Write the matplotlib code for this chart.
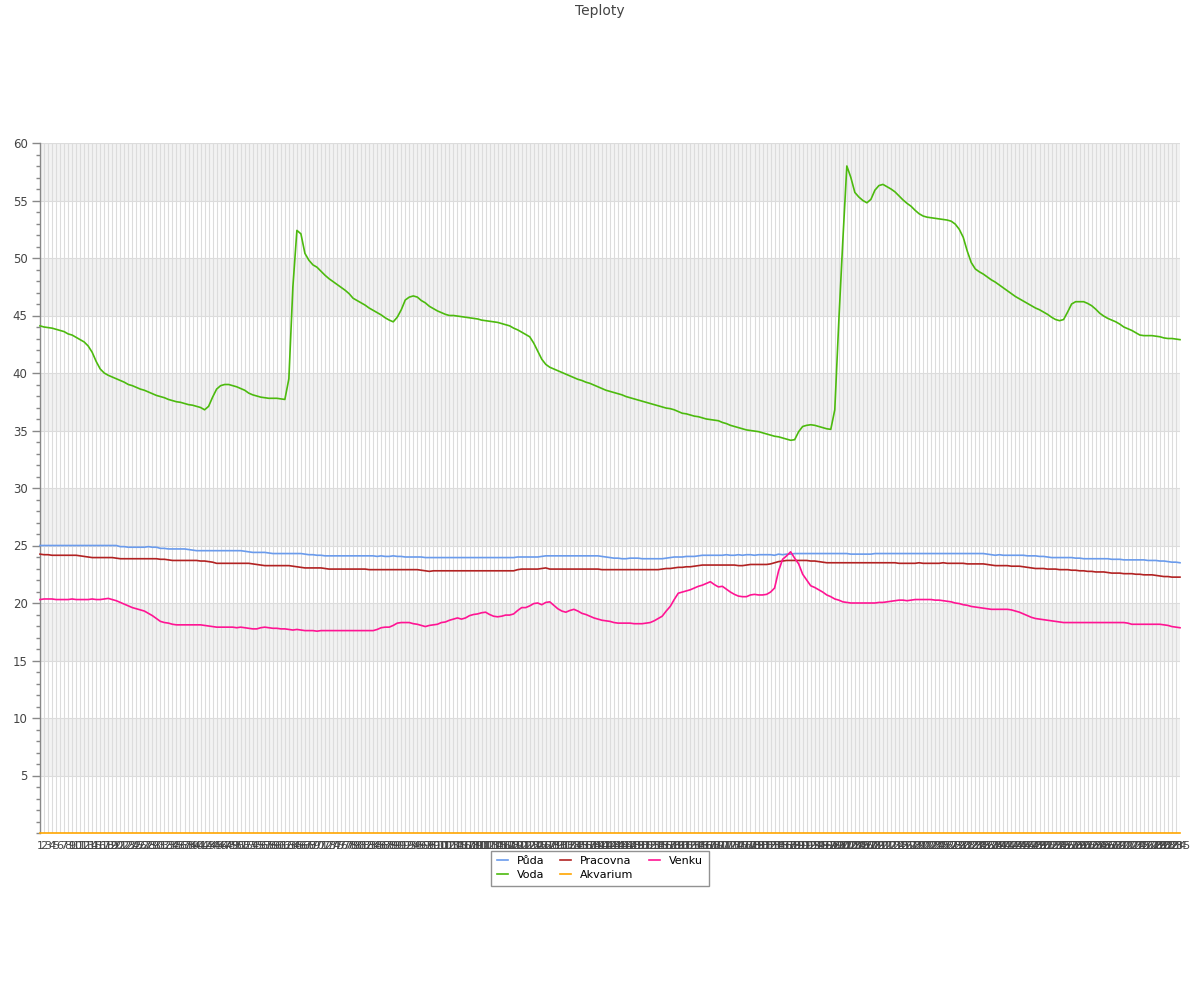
import matplotlib
matplotlib.use("Agg")
import matplotlib.pyplot as plt
from matplotlib.ticker import MultipleLocator

plt.rcParams['font.family'] = ['DejaVu Sans']

title = "Teploty"
series_names = ["Půda", "Voda", "Pracovna", "Akvarium", "Venku"]
series_colors = ["#6a9bec", "#4cba0e", "#b22222", "#ffa500", "#ff1493"]

puda = [
    25.0, 25.0, 25.0, 25.0, 25.0, 25.0, 25.0, 25.0, 25.0, 25.0, 25.0, 25.0, 25.0, 25.0, 25.0,
    25.0, 25.0, 25.0, 25.0, 25.0, 24.9, 24.9, 24.85, 24.85, 24.85, 24.85, 24.85, 24.9, 24.85, 24.85,
    24.75, 24.75, 24.7, 24.7, 24.7, 24.7, 24.7, 24.65, 24.6, 24.55, 24.55, 24.55, 24.55, 24.55, 24.55,
    24.55, 24.55, 24.55, 24.55, 24.55, 24.55, 24.5, 24.45, 24.4, 24.4, 24.4, 24.4, 24.35, 24.3, 24.3,
    24.3, 24.3, 24.3, 24.3, 24.3, 24.3, 24.25, 24.2, 24.2, 24.15, 24.15, 24.1, 24.1, 24.1, 24.1,
    24.1, 24.1, 24.1, 24.1, 24.1, 24.1, 24.1, 24.1, 24.1, 24.05, 24.1, 24.05, 24.05, 24.1, 24.05,
    24.05, 24.0, 24.0, 24.0, 24.0, 24.0, 23.95, 23.95, 23.95, 23.95, 23.95, 23.95, 23.95, 23.95, 23.95,
    23.95, 23.95, 23.95, 23.95, 23.95, 23.95, 23.95, 23.95, 23.95, 23.95, 23.95, 23.95, 23.95, 23.95, 24.0,
    24.0, 24.0, 24.0, 24.0, 24.0, 24.05, 24.1, 24.1, 24.1, 24.1, 24.1, 24.1, 24.1, 24.1, 24.1,
    24.1, 24.1, 24.1, 24.1, 24.1, 24.05, 24.0, 23.95, 23.9, 23.9, 23.85, 23.85, 23.9, 23.9, 23.9,
    23.85, 23.85, 23.85, 23.85, 23.85, 23.85, 23.9, 23.95, 24.0, 24.0, 24.0, 24.05, 24.05, 24.05, 24.1,
    24.15, 24.15, 24.15, 24.15, 24.15, 24.15, 24.2, 24.15, 24.15, 24.2, 24.15, 24.2, 24.2, 24.15, 24.2,
    24.2, 24.2, 24.2, 24.15, 24.25, 24.2, 24.25, 24.25, 24.3, 24.3, 24.3, 24.3, 24.3, 24.3, 24.3,
    24.3, 24.3, 24.3, 24.3, 24.3, 24.3, 24.3, 24.25, 24.25, 24.25, 24.25, 24.25, 24.25, 24.3, 24.3,
    24.3, 24.3, 24.3, 24.3, 24.3, 24.3, 24.3, 24.3, 24.3, 24.3, 24.3, 24.3, 24.3, 24.3, 24.3,
    24.3, 24.3, 24.3, 24.3, 24.3, 24.3, 24.3, 24.3, 24.3, 24.3, 24.3, 24.25, 24.2, 24.15, 24.2,
    24.15, 24.15, 24.15, 24.15, 24.15, 24.15, 24.1, 24.1, 24.1, 24.05, 24.05, 24.0, 23.95, 23.95, 23.95,
    23.95, 23.95, 23.95, 23.9, 23.9, 23.85, 23.85, 23.85, 23.85, 23.85, 23.85, 23.85, 23.8, 23.8, 23.8,
    23.75, 23.75, 23.75, 23.75, 23.75, 23.75, 23.7, 23.7, 23.7, 23.65, 23.65, 23.6, 23.55, 23.55, 23.5,
]

voda = [
    44.1, 44.0, 43.95, 43.9, 43.8, 43.7, 43.6, 43.4, 43.3, 43.1, 42.9, 42.7, 42.35, 41.8, 41.0,
    40.35, 40.0, 39.8, 39.65, 39.5, 39.35, 39.2, 39.0, 38.9, 38.75, 38.6, 38.5, 38.35, 38.2, 38.05,
    37.95, 37.85, 37.7, 37.6, 37.5, 37.45, 37.35, 37.25, 37.2, 37.1, 37.0, 36.8, 37.1, 37.9, 38.6,
    38.9, 39.0, 39.0, 38.9, 38.8, 38.65, 38.5, 38.25, 38.1, 38.0, 37.9, 37.85, 37.8, 37.8, 37.8,
    37.75, 37.7, 39.5, 47.5, 52.4, 52.1, 50.4, 49.8, 49.4, 49.2, 48.85, 48.5, 48.2, 47.95, 47.7,
    47.45, 47.2, 46.9, 46.5, 46.3, 46.1, 45.9, 45.65, 45.45, 45.25, 45.05, 44.8, 44.6, 44.45, 44.85,
    45.5, 46.35, 46.6, 46.7, 46.6, 46.3, 46.1, 45.8, 45.6, 45.4, 45.25, 45.1, 45.0, 45.0, 44.95,
    44.9, 44.85, 44.8, 44.75, 44.7, 44.6, 44.55, 44.5, 44.45, 44.4, 44.3, 44.2, 44.1, 43.9, 43.75,
    43.55, 43.35, 43.15, 42.6, 41.9, 41.2, 40.75, 40.5, 40.35, 40.2, 40.05, 39.9, 39.75, 39.6, 39.45,
    39.35, 39.2, 39.1, 38.95, 38.8, 38.65, 38.5, 38.4, 38.3, 38.2, 38.1, 37.95, 37.85, 37.75, 37.65,
    37.55, 37.45, 37.35, 37.25, 37.15, 37.05, 36.95, 36.9, 36.8, 36.65, 36.5, 36.45, 36.35, 36.25, 36.2,
    36.1, 36.0, 35.95, 35.9, 35.85, 35.7, 35.6, 35.45, 35.35, 35.25, 35.15, 35.05, 35.0, 34.95, 34.9,
    34.8, 34.7, 34.6, 34.5, 34.45, 34.35, 34.25, 34.15, 34.2, 34.9, 35.35, 35.45, 35.5, 35.45, 35.35,
    35.25, 35.15, 35.1, 36.8, 44.5, 51.5, 58.0, 57.0, 55.7, 55.3, 55.0, 54.8, 55.1, 55.9, 56.3,
    56.4, 56.2, 56.0, 55.75, 55.4, 55.05, 54.75, 54.5, 54.15, 53.85, 53.65, 53.55, 53.5, 53.45, 53.4,
    53.35, 53.3, 53.2, 52.95, 52.5, 51.8, 50.6, 49.6, 49.05, 48.8, 48.6, 48.35, 48.1, 47.9, 47.65,
    47.4, 47.15, 46.9, 46.65, 46.45, 46.25, 46.05, 45.85, 45.65, 45.5, 45.3, 45.1, 44.85, 44.65, 44.55,
    44.65, 45.3, 46.0, 46.2, 46.2, 46.2, 46.05, 45.85, 45.55, 45.2, 44.95, 44.75, 44.6, 44.45, 44.25,
    44.0, 43.85, 43.7, 43.5, 43.3, 43.25, 43.25, 43.25, 43.2, 43.15, 43.05, 43.0, 43.0, 42.95, 42.9,
]

pracovna = [
    24.25, 24.2, 24.2, 24.15, 24.15, 24.15, 24.15, 24.15, 24.15, 24.15, 24.1, 24.05, 24.0, 23.95, 23.95,
    23.95, 23.95, 23.95, 23.95, 23.9, 23.85, 23.85, 23.85, 23.85, 23.85, 23.85, 23.85, 23.85, 23.85, 23.85,
    23.8, 23.8, 23.75, 23.7, 23.7, 23.7, 23.7, 23.7, 23.7, 23.7, 23.65, 23.65, 23.6, 23.55, 23.45,
    23.45, 23.45, 23.45, 23.45, 23.45, 23.45, 23.45, 23.45, 23.4, 23.35, 23.3, 23.25, 23.25, 23.25, 23.25,
    23.25, 23.25, 23.25, 23.2, 23.15, 23.1, 23.05, 23.05, 23.05, 23.05, 23.05, 23.0, 22.95, 22.95, 22.95,
    22.95, 22.95, 22.95, 22.95, 22.95, 22.95, 22.95, 22.9, 22.9, 22.9, 22.9, 22.9, 22.9, 22.9, 22.9,
    22.9, 22.9, 22.9, 22.9, 22.9, 22.85, 22.8, 22.75, 22.8, 22.8, 22.8, 22.8, 22.8, 22.8, 22.8,
    22.8, 22.8, 22.8, 22.8, 22.8, 22.8, 22.8, 22.8, 22.8, 22.8, 22.8, 22.8, 22.8, 22.8, 22.9,
    22.95, 22.95, 22.95, 22.95, 22.95, 23.0, 23.05, 22.95, 22.95, 22.95, 22.95, 22.95, 22.95, 22.95, 22.95,
    22.95, 22.95, 22.95, 22.95, 22.95, 22.9, 22.9, 22.9, 22.9, 22.9, 22.9, 22.9, 22.9, 22.9, 22.9,
    22.9, 22.9, 22.9, 22.9, 22.9, 22.95, 23.0, 23.0, 23.05, 23.1, 23.1, 23.15, 23.15, 23.2, 23.25,
    23.3, 23.3, 23.3, 23.3, 23.3, 23.3, 23.3, 23.3, 23.3, 23.25, 23.25, 23.3, 23.35, 23.35, 23.35,
    23.35, 23.35, 23.4, 23.5, 23.6, 23.65, 23.7, 23.7, 23.7, 23.7, 23.7, 23.7, 23.65, 23.65, 23.6,
    23.55, 23.5, 23.5, 23.5, 23.5, 23.5, 23.5, 23.5, 23.5, 23.5, 23.5, 23.5, 23.5, 23.5, 23.5,
    23.5, 23.5, 23.5, 23.5, 23.45, 23.45, 23.45, 23.45, 23.45, 23.5, 23.45, 23.45, 23.45, 23.45, 23.45,
    23.5, 23.45, 23.45, 23.45, 23.45, 23.45, 23.4, 23.4, 23.4, 23.4, 23.4, 23.35, 23.3, 23.25, 23.25,
    23.25, 23.25, 23.2, 23.2, 23.2, 23.15, 23.1, 23.05, 23.0, 23.0, 23.0, 22.95, 22.95, 22.95, 22.9,
    22.9, 22.9, 22.85, 22.85, 22.8, 22.8, 22.75, 22.75, 22.7, 22.7, 22.7, 22.65, 22.6, 22.6, 22.6,
    22.55, 22.55, 22.55, 22.5, 22.5, 22.45, 22.45, 22.45, 22.4, 22.35, 22.3, 22.3, 22.25, 22.25, 22.25,
]

akvarium = [
    0.0, 0.0, 0.0, 0.0, 0.0, 0.0, 0.0, 0.0, 0.0, 0.0, 0.0, 0.0, 0.0, 0.0, 0.0,
    0.0, 0.0, 0.0, 0.0, 0.0, 0.0, 0.0, 0.0, 0.0, 0.0, 0.0, 0.0, 0.0, 0.0, 0.0,
    0.0, 0.0, 0.0, 0.0, 0.0, 0.0, 0.0, 0.0, 0.0, 0.0, 0.0, 0.0, 0.0, 0.0, 0.0,
    0.0, 0.0, 0.0, 0.0, 0.0, 0.0, 0.0, 0.0, 0.0, 0.0, 0.0, 0.0, 0.0, 0.0, 0.0,
    0.0, 0.0, 0.0, 0.0, 0.0, 0.0, 0.0, 0.0, 0.0, 0.0, 0.0, 0.0, 0.0, 0.0, 0.0,
    0.0, 0.0, 0.0, 0.0, 0.0, 0.0, 0.0, 0.0, 0.0, 0.0, 0.0, 0.0, 0.0, 0.0, 0.0,
    0.0, 0.0, 0.0, 0.0, 0.0, 0.0, 0.0, 0.0, 0.0, 0.0, 0.0, 0.0, 0.0, 0.0, 0.0,
    0.0, 0.0, 0.0, 0.0, 0.0, 0.0, 0.0, 0.0, 0.0, 0.0, 0.0, 0.0, 0.0, 0.0, 0.0,
    0.0, 0.0, 0.0, 0.0, 0.0, 0.0, 0.0, 0.0, 0.0, 0.0, 0.0, 0.0, 0.0, 0.0, 0.0,
    0.0, 0.0, 0.0, 0.0, 0.0, 0.0, 0.0, 0.0, 0.0, 0.0, 0.0, 0.0, 0.0, 0.0, 0.0,
    0.0, 0.0, 0.0, 0.0, 0.0, 0.0, 0.0, 0.0, 0.0, 0.0, 0.0, 0.0, 0.0, 0.0, 0.0,
    0.0, 0.0, 0.0, 0.0, 0.0, 0.0, 0.0, 0.0, 0.0, 0.0, 0.0, 0.0, 0.0, 0.0, 0.0,
    0.0, 0.0, 0.0, 0.0, 0.0, 0.0, 0.0, 0.0, 0.0, 0.0, 0.0, 0.0, 0.0, 0.0, 0.0,
    0.0, 0.0, 0.0, 0.0, 0.0, 0.0, 0.0, 0.0, 0.0, 0.0, 0.0, 0.0, 0.0, 0.0, 0.0,
    0.0, 0.0, 0.0, 0.0, 0.0, 0.0, 0.0, 0.0, 0.0, 0.0, 0.0, 0.0, 0.0, 0.0, 0.0,
    0.0, 0.0, 0.0, 0.0, 0.0, 0.0, 0.0, 0.0, 0.0, 0.0, 0.0, 0.0, 0.0, 0.0, 0.0,
    0.0, 0.0, 0.0, 0.0, 0.0, 0.0, 0.0, 0.0, 0.0, 0.0, 0.0, 0.0, 0.0, 0.0, 0.0,
    0.0, 0.0, 0.0, 0.0, 0.0, 0.0, 0.0, 0.0, 0.0, 0.0, 0.0, 0.0, 0.0, 0.0, 0.0,
    0.0, 0.0, 0.0, 0.0, 0.0, 0.0, 0.0, 0.0, 0.0, 0.0, 0.0, 0.0, 0.0, 0.0, 0.0,
]

venku = [
    20.3, 20.35, 20.35, 20.35, 20.3, 20.3, 20.3, 20.3, 20.35, 20.3, 20.3, 20.3, 20.3, 20.35, 20.3,
    20.3, 20.35, 20.4, 20.3, 20.2, 20.05, 19.9, 19.75, 19.6, 19.5, 19.4, 19.3, 19.1, 18.9, 18.65,
    18.4, 18.3, 18.25, 18.15, 18.1, 18.1, 18.1, 18.1, 18.1, 18.1, 18.1, 18.05, 18.0, 17.95, 17.9,
    17.9, 17.9, 17.9, 17.9, 17.85, 17.9, 17.85, 17.8, 17.75, 17.75, 17.85, 17.9, 17.85, 17.8, 17.8,
    17.75, 17.75, 17.7, 17.65, 17.7, 17.65, 17.6, 17.6, 17.6, 17.55, 17.6, 17.6, 17.6, 17.6, 17.6,
    17.6, 17.6, 17.6, 17.6, 17.6, 17.6, 17.6, 17.6, 17.6, 17.7, 17.85, 17.9, 17.9, 18.05, 18.25,
    18.3, 18.3, 18.3, 18.2, 18.15, 18.05, 17.95, 18.05, 18.1, 18.15, 18.3, 18.35, 18.5, 18.6, 18.7,
    18.6, 18.7, 18.9, 19.0, 19.05, 19.15, 19.2, 19.0, 18.85, 18.8, 18.85, 18.95, 18.95, 19.05, 19.35,
    19.6, 19.6, 19.75, 19.95, 20.0, 19.85, 20.05, 20.1, 19.8, 19.5, 19.3, 19.2, 19.35, 19.45, 19.3,
    19.1, 19.0, 18.85, 18.7, 18.6, 18.5, 18.45, 18.4, 18.3, 18.25, 18.25, 18.25, 18.25, 18.2, 18.2,
    18.2, 18.25, 18.3, 18.45, 18.65, 18.85, 19.3, 19.7, 20.3, 20.85, 20.95, 21.05, 21.15, 21.3, 21.45,
    21.55, 21.7, 21.85, 21.6, 21.4, 21.45, 21.2, 20.95, 20.75, 20.6, 20.55, 20.55, 20.7, 20.75, 20.7,
    20.7, 20.75, 20.95, 21.3, 22.8, 23.8, 24.1, 24.45, 23.9, 23.4, 22.5, 22.0, 21.5, 21.35, 21.15,
    20.95, 20.7, 20.55, 20.35, 20.25, 20.1, 20.05, 20.0, 20.0, 20.0, 20.0, 20.0, 20.0, 20.0, 20.05,
    20.05, 20.1, 20.15, 20.2, 20.25, 20.25, 20.2, 20.25, 20.3, 20.3, 20.3, 20.3, 20.3, 20.25, 20.25,
    20.2, 20.15, 20.1, 20.0, 19.95, 19.85, 19.8, 19.7, 19.65, 19.6, 19.55, 19.5, 19.45, 19.45, 19.45,
    19.45, 19.45, 19.4, 19.3, 19.2, 19.05, 18.9, 18.75, 18.65, 18.6, 18.55, 18.5, 18.45, 18.4, 18.35,
    18.3, 18.3, 18.3, 18.3, 18.3, 18.3, 18.3, 18.3, 18.3, 18.3, 18.3, 18.3, 18.3, 18.3, 18.3,
    18.3, 18.25, 18.15, 18.15, 18.15, 18.15, 18.15, 18.15, 18.15, 18.15, 18.1, 18.05, 17.95, 17.9, 17.85,
]

n_points = len(voda)
categories = [str(i) for i in range(1, n_points + 1)]
series_values = [puda, voda, pracovna, akvarium, venku]

fig = plt.figure(figsize=(12, 10), dpi=100)
ax = fig.add_axes([40 / 1200, 167 / 1000, 1140 / 1200, 690 / 1000])

x = list(range(1, n_points + 1))

# alternating bands
for lo in [5, 15, 25, 35, 45, 55]:
    ax.axhspan(lo, lo + 5, color="#f2f2f2", zorder=0, lw=0)

lines = []
for name, vals, col in zip(series_names, series_values, series_colors):
    ln, = ax.plot(x, vals, color=col, lw=1.2, label=name, clip_on=False,
                  zorder=3 if name != "Akvarium" else 4, solid_joinstyle="round")
    lines.append(ln)

ax.set_xlim(1, n_points)
ax.set_ylim(0, 60)
ax.set_xticks(x)
ax.set_xticklabels(categories, fontsize=8, color="#444444")
ax.yaxis.set_major_locator(MultipleLocator(5))
ax.yaxis.set_minor_locator(MultipleLocator(1))
ax.set_yticks([5, 10, 15, 20, 25, 30, 35, 40, 45, 50, 55, 60])

ax.grid(True, which="major", axis="both", color="#dcdcdc", lw=0.8, zorder=1)
ax.set_axisbelow(True)

for s in ["top", "right", "bottom"]:
    ax.spines[s].set_visible(False)
ax.spines["left"].set_color("#888888")
ax.spines["left"].set_linewidth(1.0)

ax.tick_params(axis="x", length=0, pad=6)
ax.tick_params(axis="y", which="major", length=6, width=1, color="#888888",
               labelsize=8.5, labelcolor="#444444", pad=3)
ax.tick_params(axis="y", which="minor", length=3, width=1, color="#888888")

fig.text(0.5, 1 - 11 / 1000, title, ha="center", va="center", fontsize=10, color="#444444")

order = [0, 1, 2, 3, 4]
leg = fig.legend([lines[i] for i in order], [series_names[i] for i in order],
                 loc="center", bbox_to_anchor=(0.5, 1 - 868 / 1000), ncol=3,
                 fontsize=8, frameon=True, fancybox=False, edgecolor="#777777",
                 handlelength=1.0, handletextpad=0.8, columnspacing=1.4,
                 borderpad=0.5, labelspacing=0.35)
leg.get_frame().set_linewidth(1.0)

fig.savefig("out.png", dpi=100)
